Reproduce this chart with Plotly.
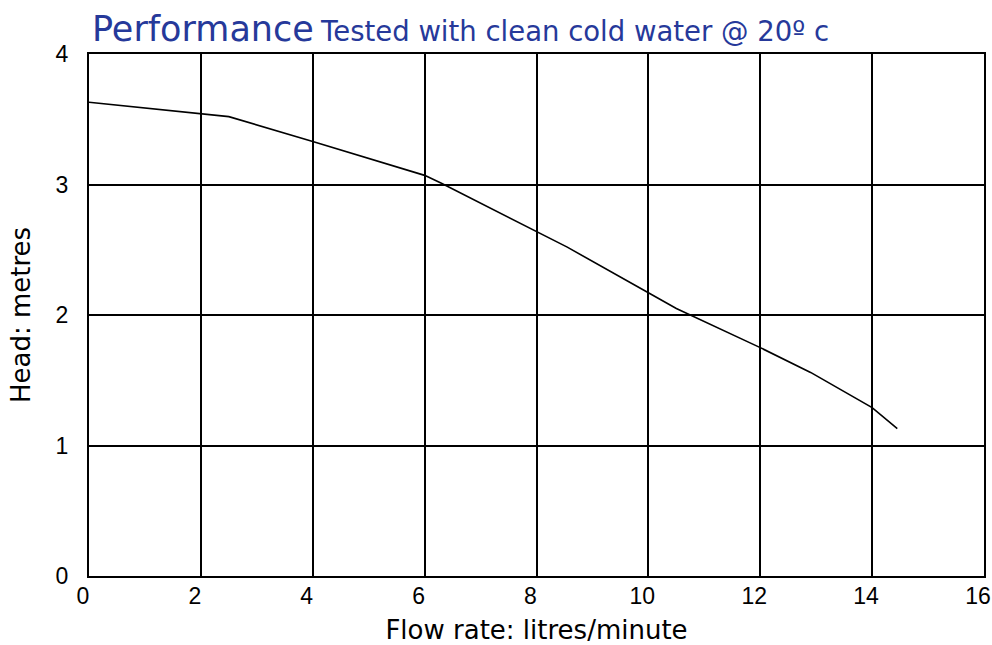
import plotly.graph_objects as go

flow = [0, 2.0, 2.5, 4.0, 6.0, 6.3, 8.0, 8.55, 10.0, 10.5, 12.0, 12.9, 14.0, 14.45]
head = [3.63, 3.54, 3.52, 3.33, 3.07, 3.01, 2.64, 2.52, 2.17, 2.05, 1.75, 1.56, 1.29, 1.13]

x_ticks = [0, 2, 4, 6, 8, 10, 12, 14, 16]
y_ticks = [0, 1, 2, 3, 4]

FONT = "DejaVu Sans, Liberation Sans, sans-serif"
TICKFONT = "Liberation Sans, Arial, sans-serif"

fig = go.Figure()
fig.add_trace(go.Scatter(x=flow, y=head, mode="lines",
                         line=dict(color="black", width=1.6),
                         hoverinfo="x+y", showlegend=False))

fig.update_layout(
    width=992, height=645,
    margin=dict(l=89, r=8, t=54, b=69),
    paper_bgcolor="white", plot_bgcolor="white",
    font=dict(family=FONT, color="black", size=23),
    xaxis=dict(range=[0, 16], tickvals=x_ticks, showgrid=True, gridcolor="black",
               gridwidth=1.6, zeroline=False, showline=True, linecolor="black",
               linewidth=2, mirror=True, ticks="", ticklabelstandoff=-2,
               ticklabelshift=-6,
               ticklabeloverflow="allow", automargin=False,
               tickfont=dict(family=TICKFONT, size=23),
               title=dict(text="Flow rate: litres/minute", font=dict(size=26), standoff=15)),
    yaxis=dict(range=[0, 4], tickvals=y_ticks, showgrid=True, gridcolor="black",
               gridwidth=1.6, zeroline=False, showline=True, linecolor="black",
               linewidth=2, mirror=True, ticks="", ticklabelstandoff=14,
               ticklabeloverflow="allow", automargin=False,
               tickfont=dict(family=TICKFONT, size=23),
               title=dict(text="Head: metres", font=dict(size=26), standoff=18)),
)

fig.add_annotation(
    xref="paper", yref="paper", x=0, y=1, xanchor="left", yanchor="bottom",
    xshift=1, yshift=3, showarrow=False,
    text='<span style="font-size:35px">Performance</span> '
         '<span style="font-size:27.5px">Tested with clean cold water @ 20º c</span>',
    font=dict(family=FONT, color="#26399a"),
)

fig.write_html("out.html", config={"displayModeBar": False},
               post_script="document.body.style.margin='0';document.body.style.overflow='hidden';")
